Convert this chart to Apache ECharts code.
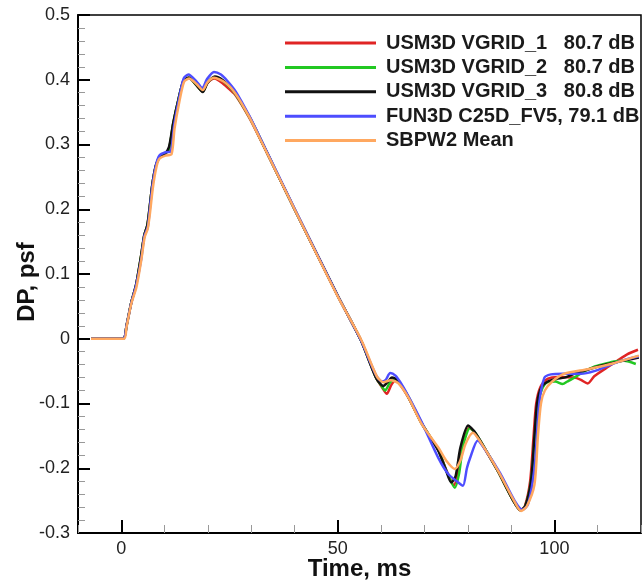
<!DOCTYPE html>
<html>
<head>
<meta charset="utf-8">
<script src="https://cdn.jsdelivr.net/npm/echarts@6/dist/echarts.min.js"></script>
<style>
  html, body { margin: 0; padding: 0; background: #fff; }
  #chart { width: 643px; height: 582px; }
</style>
</head>
<body>
<div id="chart"></div>
<script>
// Ground-track overpressure signatures, [time ms, DP psf]
const seriesNames = [
  'USM3D VGRID_1   80.7 dB',
  'USM3D VGRID_2   80.7 dB',
  'USM3D VGRID_3   80.8 dB',
  'FUN3D C25D_FV5, 79.1 dB',
  'SBPW2 Mean'
];
const seriesColors = ['#e02424', '#22c822', '#111111', '#4d4dff', '#ffa860'];

const vgrid1 = [
  [-7,0],[0.4,0],[1.2,0.02],[2.3,0.056],[3.4,0.083],[4.5,0.125],[5.3,0.16],[6,0.175],[6.5,0.2],
  [7.2,0.24],[8,0.268],[8.8,0.28],[10,0.285],[11,0.292],[12,0.332],[13.2,0.369],[14.4,0.399],
  [15.6,0.403],[17.3,0.392],[18.8,0.382],[19.9,0.395],[21.5,0.402],[23.5,0.394],[25,0.385],
  [26.5,0.375],[29.5,0.342],[31.8,0.312],[40,0.2],[50,0.066],[55.3,-0.002],[58.8,-0.06],
  [60.3,-0.076],[61.3,-0.085],[62.3,-0.072],[63.2,-0.065],[64.5,-0.072],[66.3,-0.091],
  [69.3,-0.13],[73.2,-0.172],[75,-0.202],[76.8,-0.226],[77.8,-0.205],[78.8,-0.165],[80.3,-0.137],
  [81.7,-0.146],[84,-0.171],[87,-0.205],[90.5,-0.25],[92.1,-0.265],[93.2,-0.258],[94.4,-0.22],
  [95.2,-0.15],[95.8,-0.1],[96.8,-0.074],[98.4,-0.062],[101,-0.059],[104.5,-0.06],[106,-0.063],
  [107.7,-0.069],[109.2,-0.058],[112,-0.045],[114.5,-0.034],[116.8,-0.024],[119.3,-0.017]
];
const vgrid2 = [
  [-7,0],[0.4,0],[1.2,0.02],[2.3,0.056],[3.4,0.083],[4.5,0.125],[5.3,0.16],[6,0.175],[6.5,0.2],
  [7.2,0.24],[8,0.268],[8.8,0.28],[10,0.285],[11,0.293],[12,0.333],[13.2,0.37],[14.4,0.399],
  [15.6,0.403],[17.3,0.392],[18.8,0.382],[19.9,0.396],[21.6,0.404],[23.5,0.398],[26,0.381],
  [29.5,0.343],[31.8,0.313],[40,0.2],[50,0.066],[55.3,-0.002],[58.8,-0.06],[60.2,-0.074],
  [60.9,-0.08],[62,-0.068],[63,-0.062],[64.2,-0.068],[66.3,-0.09],[69.3,-0.13],[73.2,-0.172],
  [75,-0.203],[77,-0.23],[78,-0.208],[78.9,-0.166],[80.5,-0.138],[81.8,-0.146],[84,-0.17],
  [87,-0.205],[90.5,-0.25],[92.2,-0.265],[93.3,-0.258],[94.6,-0.22],[95.5,-0.15],[96.2,-0.1],
  [97.2,-0.077],[98.4,-0.067],[100.2,-0.066],[101.9,-0.07],[103,-0.066],[104.6,-0.06],
  [107,-0.05],[109.2,-0.043],[111.5,-0.039],[113.8,-0.035],[116.1,-0.034],[118.8,-0.039]
];
const vgrid3 = [
  [-7,0],[0.4,0],[1.2,0.02],[2.3,0.056],[3.4,0.083],[4.5,0.125],[5.3,0.16],[6,0.175],[6.5,0.2],
  [7.2,0.24],[8,0.268],[8.8,0.28],[10,0.285],[11,0.296],[12,0.334],[13.2,0.37],[14.4,0.399],
  [15.6,0.403],[17.3,0.392],[18.8,0.381],[19.9,0.395],[21.6,0.405],[23.5,0.399],[26,0.382],
  [29.5,0.344],[31.8,0.313],[40,0.2],[50,0.066],[55.3,-0.002],[58.8,-0.06],[60.5,-0.073],
  [61.5,-0.067],[62.5,-0.06],[63.8,-0.064],[66.3,-0.09],[69.3,-0.13],[73.2,-0.173],
  [74.8,-0.2],[76.2,-0.222],[77.2,-0.212],[78.3,-0.168],[80.1,-0.134],[81.5,-0.143],[84,-0.17],
  [87,-0.205],[90.5,-0.25],[92.2,-0.265],[93.3,-0.258],[94.6,-0.22],[95.4,-0.15],[96,-0.1],
  [97,-0.075],[98.5,-0.066],[100.5,-0.062],[102.3,-0.06],[105,-0.053],[108,-0.047],
  [110.5,-0.042],[113.8,-0.037],[116.5,-0.033],[119.5,-0.029]
];
const fun3d = [
  [-7,0],[0.4,0],[1.2,0.02],[2.3,0.055],[3.4,0.082],[4.6,0.123],[5.3,0.158],[6.1,0.172],
  [6.5,0.195],[7.2,0.237],[8,0.268],[8.8,0.283],[10.2,0.288],[11.4,0.289],[12.2,0.33],
  [13.3,0.37],[14.4,0.402],[15.5,0.408],[17.3,0.398],[18.7,0.387],[19.8,0.401],[21.4,0.412],
  [23,0.408],[24.5,0.398],[26.5,0.381],[29.5,0.345],[31.8,0.314],[40,0.201],[50,0.066],
  [55.3,-0.002],[58.8,-0.056],[60.2,-0.066],[61,-0.064],[62.1,-0.053],[63.3,-0.057],
  [64.5,-0.068],[66.3,-0.089],[69.3,-0.128],[73.2,-0.184],[75.5,-0.209],[77.8,-0.222],
  [78.9,-0.227],[79.8,-0.2],[80.5,-0.185],[82.3,-0.157],[84,-0.171],[87.5,-0.208],
  [90.8,-0.25],[92.6,-0.264],[93.9,-0.256],[95.4,-0.2],[96.5,-0.1],[97.7,-0.06],[99.2,-0.055],
  [102,-0.054],[106.1,-0.054],[109.2,-0.05],[113,-0.04],[116,-0.033],[119.5,-0.027]
];
const sbpw2Mean = [
  [-7,0],[0.6,0],[1.2,0.018],[2.3,0.054],[3.5,0.08],[4.6,0.121],[5.4,0.157],[6.1,0.17],
  [6.6,0.193],[7.3,0.234],[8.1,0.265],[8.8,0.278],[10.3,0.283],[11.6,0.285],[12.3,0.325],
  [13.4,0.366],[14.5,0.397],[15.7,0.402],[17.4,0.393],[18.8,0.384],[19.9,0.396],[21.4,0.403],
  [24.1,0.395],[26.4,0.378],[29.5,0.343],[31.8,0.312],[40,0.2],[50,0.065],[55.5,-0.003],
  [59,-0.058],[60.5,-0.067],[62.2,-0.064],[64,-0.069],[66.3,-0.091],[69.3,-0.131],
  [73.2,-0.168],[75,-0.188],[77,-0.201],[78.3,-0.188],[79.5,-0.162],[81.2,-0.145],[83,-0.16],
  [87,-0.204],[90.5,-0.248],[92.3,-0.266],[93.6,-0.259],[95.4,-0.225],[96.2,-0.15],
  [96.9,-0.1],[97.8,-0.08],[99.5,-0.066],[102.3,-0.054],[107.7,-0.047],[113,-0.039],
  [119.5,-0.026]
];
const seriesData = [vgrid1, vgrid2, vgrid3, fun3d, sbpw2Mean];

// Axis ranges and ticks
const timeMin = -10, timeMax = 120, timeStep = 10;
const timeMajorTicks = [0, 50, 100];
const dpMin = -0.3, dpMax = 0.5, dpStep = 0.1;
const majorTickSpan = 0.02; // long time-axis tick length, in psf

const FONT = "'Liberation Sans', Arial, Helvetica, sans-serif";
const chart = echarts.init(document.getElementById('chart'), null, { renderer: 'canvas' });

const lineSeries = seriesNames.map((name, i) => ({
  name: name,
  type: 'line',
  data: seriesData[i],
  symbol: 'none',
  smooth: 0.25,
  lineStyle: { color: seriesColors[i], width: 2.5 },
  itemStyle: { color: seriesColors[i] },
  z: 2 + i
}));

// Long ticks at the labelled times, carried by the last curve and placed through the axis scales
lineSeries[lineSeries.length - 1].markLine = {
  silent: true,
  animation: false,
  symbol: ['none', 'none'],
  label: { show: false },
  emphasis: { disabled: true },
  lineStyle: { color: '#000', width: 2, type: 'solid', opacity: 1 },
  data: timeMajorTicks.map(t => [{ coord: [t, dpMin] }, { coord: [t, dpMin + majorTickSpan] }])
};

chart.setOption({
  animation: false,
  backgroundColor: '#ffffff',
  grid: {
    left: 78, right: 2, top: 15, bottom: 49,
    outerBoundsMode: 'none', containLabel: false,
    show: true, borderColor: '#000', borderWidth: 1.5, backgroundColor: 'transparent'
  },
  legend: {
    left: 280, top: 28, orient: 'vertical',
    icon: 'rect', itemWidth: 91, itemHeight: 3, itemGap: 4.4,
    data: seriesNames,
    textStyle: {
      fontFamily: FONT, fontSize: 20, fontWeight: 'bold', color: '#1a1a1a',
      lineHeight: 20, padding: [0, 0, 0, 5]
    }
  },
  xAxis: {
    type: 'value', min: timeMin, max: timeMax, interval: timeStep,
    name: 'Time, ms', nameLocation: 'middle', nameGap: 24, nameMoveOverlap: false,
    nameTextStyle: { fontFamily: FONT, fontSize: 24, fontWeight: 'bold', color: '#111', verticalAlign: 'top' },
    axisLine: { onZero: false, lineStyle: { color: '#000', width: 2 } },
    axisTick: { inside: true, length: 8, lineStyle: { color: '#999', width: 1 } },
    axisLabel: {
      fontFamily: FONT, fontSize: 18, color: '#222', margin: 7,
      formatter: v => (v % 50 === 0 ? String(v) : '')
    },
    splitLine: { show: false }
  },
  yAxis: {
    type: 'value', min: dpMin, max: dpMax, interval: dpStep,
    name: 'DP, psf', nameLocation: 'middle', nameGap: 39, nameMoveOverlap: false,
    nameTextStyle: {
      fontFamily: FONT, fontSize: 24, fontWeight: 'bold', color: '#111',
      padding: [0, 16, 0, 0]
    },
    axisLine: { onZero: false, lineStyle: { color: '#000', width: 2 } },
    axisTick: { inside: true, length: 12, lineStyle: { color: '#000', width: 2 } },
    minorTick: { show: true, splitNumber: 5, length: 7, lineStyle: { color: '#999', width: 1 } },
    axisLabel: {
      fontFamily: FONT, fontSize: 18, color: '#222', margin: 8,
      formatter: v => (Math.abs(v) < 1e-9 ? '0' : v.toFixed(1))
    },
    splitLine: { show: false }
  },
  series: lineSeries
});
</script>
</body>
</html>
